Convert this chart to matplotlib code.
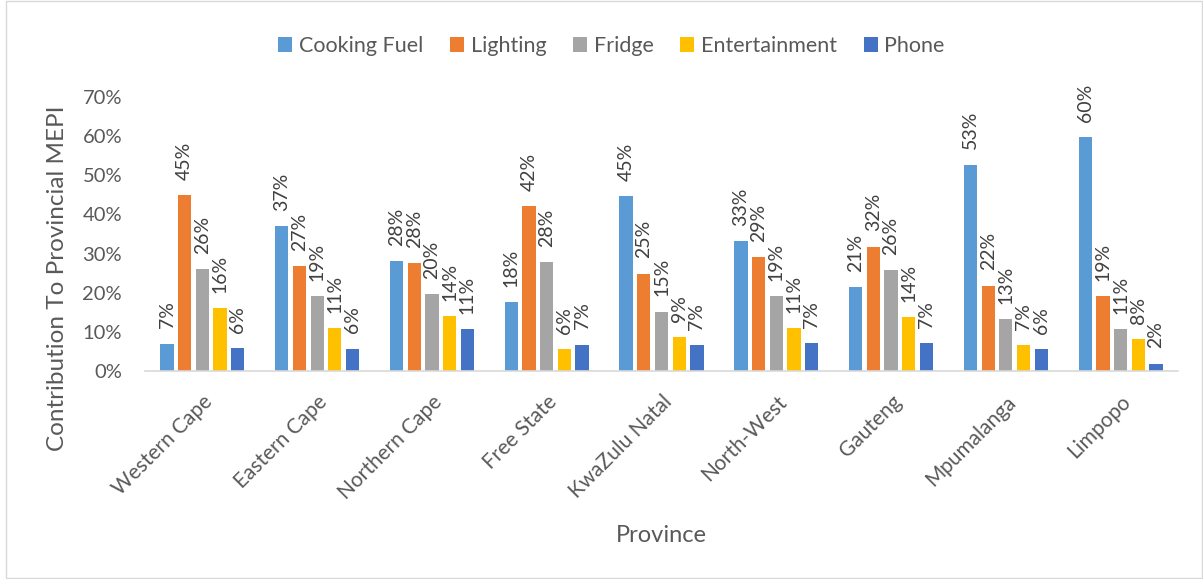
import numpy as np
import matplotlib
matplotlib.use("Agg")
import matplotlib.pyplot as plt
from matplotlib.patches import Rectangle

# -------------------------------------------------
# DATA (share of provincial MEPI, in percent)
# -------------------------------------------------

provinces = [
    "Western Cape", "Eastern Cape", "Northern Cape", "Free State",
    "KwaZulu Natal", "North-West", "Gauteng", "Mpumalanga", "Limpopo",
]

cooking_fuel = [7.0, 37.1, 28.0, 17.6, 44.7, 33.1, 21.4, 52.7, 59.7]
lighting = [44.9, 26.8, 27.6, 42.1, 24.9, 29.0, 31.8, 21.8, 19.1]
fridge = [26.1, 19.1, 19.7, 27.9, 15.2, 19.2, 25.7, 13.2, 10.7]
entertainment = [16.1, 11.0, 14.1, 5.6, 8.6, 11.0, 13.7, 6.6, 8.2]
phone = [5.8, 5.7, 10.7, 6.7, 6.6, 7.2, 7.2, 5.6, 1.9]

series_names = ["Cooking Fuel", "Lighting", "Fridge", "Entertainment", "Phone"]
series_values = [cooking_fuel, lighting, fridge, entertainment, phone]
colors = ["#5B9BD5", "#ED7D31", "#A5A5A5", "#FFC000", "#4472C4"]

yticks = [0, 10, 20, 30, 40, 50, 60, 70]

# -------------------------------------------------
# PLOT
# -------------------------------------------------

plt.rcParams["font.family"] = ["Lato", "DejaVu Sans"]
text_color = "#595959"

W, H = 1203, 579
fig = plt.figure(figsize=(W / 100, H / 100), dpi=100)
ax = fig.add_axes([145 / W, 1 - 371 / H, 1033 / W, 274 / H])

x = np.arange(len(provinces))
step = 0.154
width = 0.116

for i, (name, vals, col) in enumerate(zip(series_names, series_values, colors)):
    pos = x + (i - 2) * step
    bars = ax.bar(pos, vals, width=width, color=col, label=name, zorder=2)
    for b, v in zip(bars, vals):
        ax.annotate(
            f"{v:.0f}%",
            xy=(b.get_x() + b.get_width() / 2, v),
            xytext=(0, 11),
            textcoords="offset points",
            rotation=90,
            ha="center",
            va="bottom",
            fontsize=14,
            color="#404040",
        )

ax.set_xlim(-0.5, len(provinces) - 0.5)
ax.set_ylim(0, 70)
ax.set_yticks(yticks)
ax.set_yticklabels([f"{t}%" for t in yticks], fontsize=14.5, color=text_color)
ax.tick_params(axis="y", length=0, pad=16.5)

ax.set_xticks(x)
ax.set_xticklabels(
    provinces,
    rotation=45,
    ha="right",
    rotation_mode="anchor",
    fontsize=15,
    color=text_color,
)
ax.tick_params(axis="x", length=0, pad=15)

for s in ["top", "right", "left"]:
    ax.spines[s].set_visible(False)
ax.spines["bottom"].set_color("#D9D9D9")
ax.spines["bottom"].set_linewidth(1.2)

fig.text(
    58 / W, 1 - 278 / H,
    "Contribution To Provincial MEPI",
    rotation=90, ha="center", va="center",
    fontsize=17.5, color=text_color,
)
fig.text(
    661 / W, 1 - 535 / H,
    "Province",
    ha="center", va="center", fontsize=17, color=text_color,
)

fig.legend(
    loc="center",
    bbox_to_anchor=(611.5 / W, 1 - 46 / H),
    ncol=5,
    frameon=False,
    fontsize=15.5,
    labelcolor=text_color,
    handlelength=0.65,
    handleheight=0.65,
    handletextpad=0.3,
    columnspacing=1.25,
    borderpad=0,
)

# light frame around the chart area
fig.patches.append(
    Rectangle(
        (6 / W, 1 / H), 1 - 7 / W, 1 - 2 / H,
        transform=fig.transFigure, fill=False,
        edgecolor="#D9D9D9", linewidth=1,
    )
)

plt.savefig("out.png", dpi=100)
